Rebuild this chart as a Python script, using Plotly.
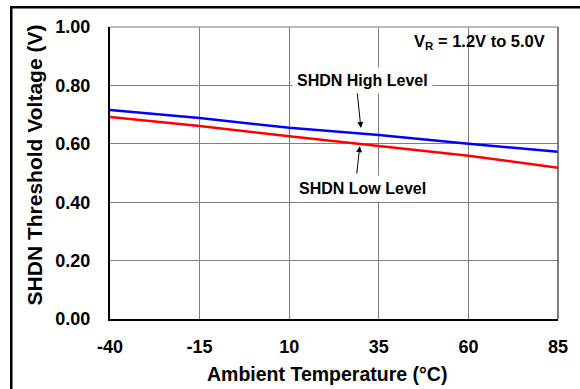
import plotly.graph_objects as go

# Ambient temperature (°C) and SHDN threshold voltages (V)
temps = [-40, -15, 10, 35, 60, 85]
shdn_high = [0.716, 0.688, 0.655, 0.630, 0.600, 0.573]
shdn_low = [0.692, 0.661, 0.626, 0.593, 0.559, 0.518]

x_ticks = [-40, -15, 10, 35, 60, 85]
x_tick_labels = ['-40', '-15', '10', '35', '60', '85']
y_ticks = [0.0, 0.2, 0.4, 0.6, 0.8, 1.0]

FONT = "Liberation Sans, Arial, sans-serif"

fig = go.Figure()
fig.add_trace(go.Scatter(x=temps, y=shdn_high, mode='lines',
                         line=dict(color='#0000ff', width=2.5), name='SHDN High Level'))
fig.add_trace(go.Scatter(x=temps, y=shdn_low, mode='lines',
                         line=dict(color='#ff0000', width=2.5), name='SHDN Low Level'))

# Labels with arrows
fig.add_annotation(x=30.0, y=0.654, ax=28.9, ay=0.784, axref='x', ayref='y',
                   text='', showarrow=True, arrowhead=2, arrowsize=1.2, arrowwidth=1, arrowcolor='black')
fig.add_annotation(x=29.7, y=0.592, ax=28.8, ay=0.493, axref='x', ayref='y',
                   text='', showarrow=True, arrowhead=2, arrowsize=1.2, arrowwidth=1, arrowcolor='black')
fig.add_annotation(x=30.4, y=0.817, text='SHDN High Level', showarrow=False,
                   bgcolor='white', borderpad=4,
                   font=dict(family=FONT, size=16, color='black', weight='bold'))
fig.add_annotation(x=30.4, y=0.447, text='SHDN Low Level', showarrow=False,
                   bgcolor='white', borderpad=4,
                   font=dict(family=FONT, size=16, color='black', weight='bold'))
fig.add_annotation(xref='paper', yref='paper', x=0.975, y=0.95, xanchor='right', yanchor='middle',
                   text='V<sub>R</sub> = 1.2V to 5.0V', showarrow=False,
                   font=dict(family=FONT, size=16.5, color='black', weight='bold'))

# Axis titles
fig.add_annotation(xref='paper', yref='paper', x=0.484, y=-0.19,
                   xanchor='center', yanchor='middle', showarrow=False,
                   text='Ambient Temperature (°C)',
                   font=dict(family=FONT, size=19.5, color='black', weight='bold'))
fig.add_annotation(xref='paper', yref='paper', x=-0.169, y=0.527,
                   xanchor='center', yanchor='middle', showarrow=False, textangle=-90,
                   text='SHDN Threshold Voltage (V)',
                   font=dict(family=FONT, size=21, color='black', weight='bold'))

# Plot frame (top/right)
fig.add_shape(type='line', xref='paper', yref='paper', x0=0, x1=1, y0=1, y1=1,
              line=dict(color='#777777', width=1))
fig.add_shape(type='line', xref='paper', yref='paper', x0=1, x1=1, y0=0, y1=1,
              line=dict(color='#555555', width=1.5))

# Outer figure border: only its left and top edges fall inside the picture
fig.add_annotation(xref='paper', yref='paper', x=-0.223, y=1.072,
                   xanchor='left', yanchor='top', text=' ', showarrow=False,
                   width=640, height=440, borderpad=0,
                   bordercolor='black', borderwidth=2.5)

fig.update_xaxes(range=[-40, 85], tickvals=x_ticks, ticktext=x_tick_labels,
                 showgrid=True, gridcolor='#808080', gridwidth=1,
                 showline=True, linecolor='black', linewidth=2, zeroline=False,
                 ticklabelstandoff=10, automargin=False,
                 tickfont=dict(family=FONT, size=18, color='black', weight='bold'))
fig.update_yaxes(range=[0, 1.0], tickvals=y_ticks, tickformat='.2f', showgrid=True,
                 gridcolor='#808080', gridwidth=1,
                 showline=True, linecolor='black', linewidth=2, zeroline=False,
                 ticklabelstandoff=14, automargin=False,
                 tickfont=dict(family=FONT, size=18, color='black', weight='bold'))

fig.update_layout(
    width=580, height=389,
    margin=dict(l=110, r=22, t=27, b=70),
    plot_bgcolor='white', paper_bgcolor='white',
    showlegend=False,
)

fig.write_html("out.html", config={'displayModeBar': False},
               post_script="document.body.style.margin='0';")
